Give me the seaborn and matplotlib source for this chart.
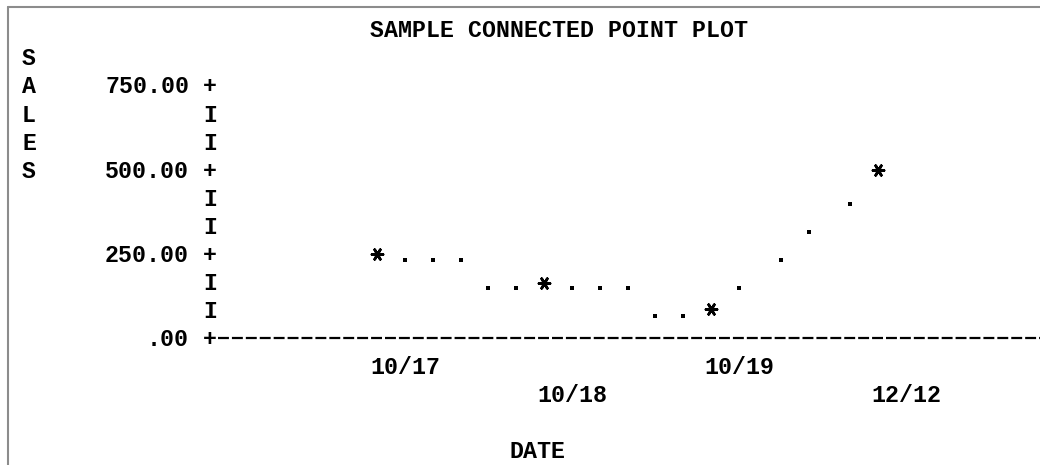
import numpy as np
import pandas as pd
import matplotlib
matplotlib.use("Agg")
import matplotlib.pyplot as plt
from matplotlib.lines import Line2D
from matplotlib.transforms import ScaledTranslation
import seaborn as sns

# ---- data -------------------------------------------------------------
dates = ["10/17", "10/18", "10/19", "12/12"]
sales = [250, 165, 85, 500]
y_ticks = [0, 250, 500, 750]
title = "SAMPLE CONNECTED POINT PLOT"
x_label = "DATE"
y_label = "SALES"

# ---- character-grid layout -------------------------------------------
DPI = 100
W, H = 1040, 465
CELL_W = 13.92          # px per character column
CELL_H = 28.0           # px per character row
AXIS_X = 210.0          # px centre of the vertical axis column
ZERO_Y = 338.0          # px centre of the zero row
ROWS_PER_TICK = 3
COLS_PER_DATE = 12
ROW_VALUE = (y_ticks[1] - y_ticks[0]) / ROWS_PER_TICK

sns.set_theme(style="white")
plt.rcParams["font.family"] = ["Liberation Mono", "DejaVu Sans Mono"]
plt.rcParams["lines.scale_dashes"] = False

fig = plt.figure(figsize=(W / DPI, H / DPI), dpi=DPI)
fig.patch.set_facecolor("white")
ax = fig.add_axes([0, 0, 1, 1])
ax.set_facecolor("white")

FS = CELL_W / 0.6 * 72 / DPI   # monospace advance = 0.6 em


def col_to_x(col):
    """Character column (0 = axis column) -> date-index units."""
    return (col - COLS_PER_DATE) / COLS_PER_DATE


baseline = ax.transData + ScaledTranslation(0, -7.5 / DPI, fig.dpi_scale_trans)


def put(col, row, s, ha="left"):
    x = col_to_x(col - 0.5) if ha == "left" else col_to_x(col + 0.5)
    ax.text(x, row * ROW_VALUE, s, ha=ha, va="baseline", fontsize=FS,
            fontweight="bold", color="black", transform=baseline)


# title
put(COLS_PER_DATE, 11, title)

# vertical axis label, one letter per row
for k, ch in enumerate(y_label):
    put(-13, 10 - k, ch)

# vertical axis: '+' at ticks, 'I' in between
top_row = int(round(y_ticks[-1] / ROW_VALUE))
for r in range(0, top_row + 1):
    put(0, r, "+" if r % ROWS_PER_TICK == 0 else "I")

# tick labels
for v in y_ticks:
    lbl = f"{v:.2f}"
    if lbl.startswith("0"):
        lbl = lbl[1:]
    put(-2, v / ROW_VALUE, lbl, ha="right")

# horizontal axis drawn as a run of dashes
right_col = (W - AXIS_X) / CELL_W + 1
ax.plot([col_to_x(0.5 + 1.5 / CELL_W), col_to_x(right_col)], [0, 0],
        color="black", lw=1.6, dashes=(7.86, 2.16), dash_capstyle="butt")

# date labels on alternating rows, starting at each point's column
for i, d in enumerate(dates):
    put(COLS_PER_DATE * (i + 1), -1 - (i % 2), d)

put(22, -4, x_label)


# ---- connecting dots, rasterised onto the character grid -------------
def connector(c0, r0, c1, r1):
    dc, dr = c1 - c0, r1 - r0
    sgn = int(np.sign(dr))
    pts = []
    if abs(dr) * 4 > dc:            # steep: one dot per row
        for m in range(1, abs(dr)):
            pts.append((c0 + round(dc * m / abs(dr)), r0 + sgn * m))
    else:                            # shallow: a dot every other column
        for k in range(2, dc, 2):
            t = abs(dr) * k / dc
            pts.append((c0 + k, r0 + sgn * int(np.floor(t + 0.5 - 1e-9))))
    return pts


cols = [COLS_PER_DATE * (i + 1) for i in range(len(dates))]
rows = [int(round(v / ROW_VALUE)) for v in sales]
dots = []
for i in range(len(dates) - 1):
    dots += connector(cols[i], rows[i], cols[i + 1], rows[i + 1])

dot_df = pd.DataFrame({"x": [col_to_x(c) for c, _ in dots],
                       "y": [r * ROW_VALUE for _, r in dots]})
dot_shift = ax.transData + ScaledTranslation(0, -6 / DPI, fig.dpi_scale_trans)
sns.scatterplot(data=dot_df, x="x", y="y", marker="s", s=5, color="black",
                linewidth=0, ax=ax, transform=dot_shift, zorder=3)

# data points as asterisks
pt_df = pd.DataFrame({"date_idx": np.arange(len(dates)), "sales": sales})
sns.scatterplot(data=pt_df, x="date_idx", y="sales", marker=(6, 2, 90),
                s=64, color="black", linewidth=1.9, ax=ax, zorder=4)

# map the grid onto the figure
ax.set_xlim(col_to_x(-AXIS_X / CELL_W), col_to_x((W - AXIS_X) / CELL_W))
ax.set_ylim((ZERO_Y - H) / CELL_H * ROW_VALUE, ZERO_Y / CELL_H * ROW_VALUE)
ax.set_axis_off()

# window frame on the left and top edges
fy = 1 - 7.5 / H
fx = 7.5 / W
fig.add_artist(Line2D([fx, fx], [0, fy], transform=fig.transFigure,
                      color="#8c8c8c", lw=1.5))
fig.add_artist(Line2D([fx, 1], [fy, fy], transform=fig.transFigure,
                      color="#8c8c8c", lw=1.5))

fig.savefig("out.png", dpi=DPI, facecolor="white")
